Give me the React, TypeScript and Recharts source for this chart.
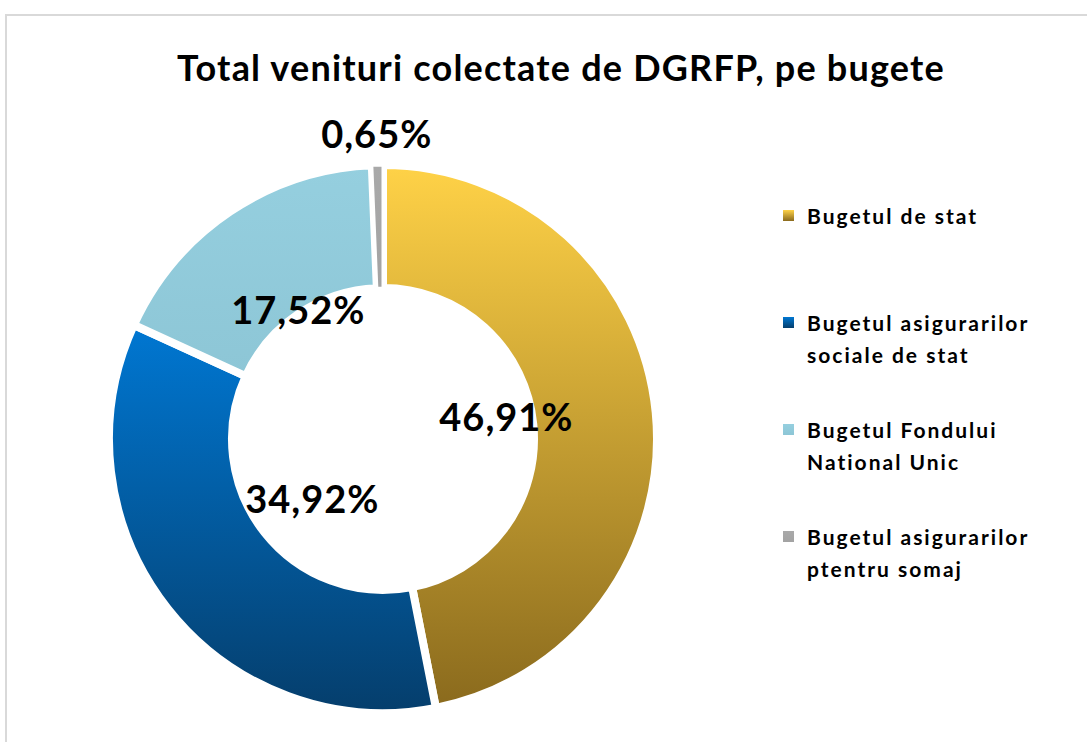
import { Cell, Legend, Pie, PieChart } from "recharts";

const categories = [
  "Bugetul de stat",
  "Bugetul asigurarilor sociale de stat",
  "Bugetul Fondului National Unic",
  "Bugetul asigurarilor ptentru somaj",
];
const shares = [46.91, 34.92, 17.52, 0.65];

// top / bottom of each slice gradient
const gradTop = ["#FFD247", "#0077D2", "#95CFDF", "#A9A9A9"];
const gradBottom = ["#8A6A1D", "#053E6C", "#8DC6D6", "#A3A3A3"];
// label placement along each slice's mid angle, plus a small vertical nudge
const labelRadius = [124, 90, 152, 306];
const labelDy = [-11, 3, -4, 0];

const data = categories.map((name, i) => ({ name, value: shares[i] }));

const FONT = "Lato, 'Open Sans', sans-serif";

const renderLabel = (props: any) => {
  const { cx, cy, midAngle, index, value } = props;
  const r = labelRadius[index];
  const rad = (-midAngle * Math.PI) / 180;
  const x = cx + r * Math.cos(rad);
  const y = cy + r * Math.sin(rad) + labelDy[index];
  return (
    <text
      x={x}
      y={y}
      textAnchor="middle"
      dominantBaseline="central"
      fill="#000"
      style={{ fontFamily: FONT, fontWeight: 700, fontSize: 38, letterSpacing: 1 }}
    >
      {value.toFixed(2).replace(".", ",") + "%"}
    </text>
  );
};

const renderLegend = () => (
  <div
    style={{
      fontFamily: FONT,
      fontWeight: 700,
      fontSize: 21,
      letterSpacing: 2,
      lineHeight: "32px",
      color: "#000",
    }}
  >
    {categories.map((name, i) => (
      <div key={name} style={{ display: "flex", alignItems: "flex-start", height: 107 }}>
        <span
          style={{
            width: 11,
            height: 11,
            marginTop: 10,
            marginRight: 13,
            flex: "none",
            background: `linear-gradient(${gradTop[i]}, ${gradBottom[i]})`,
          }}
        />
        <span style={{ width: 250 }}>{name}</span>
      </div>
    ))}
  </div>
);

export default function App() {
  return (
    <div
      style={{
        position: "absolute",
        left: 5,
        top: 14,
        width: 1100,
        height: 740,
        border: "2px solid #d9d9d9",
        background: "#fff",
      }}
    >
      <div
        style={{
          position: "absolute",
          top: 29,
          left: 0,
          width: 1108,
          textAlign: "center",
          fontFamily: FONT,
          fontWeight: 700,
          fontSize: 36,
          letterSpacing: 1.2,
          color: "#000",
        }}
      >
        Total venituri colectate de DGRFP, pe bugete
      </div>
      <PieChart width={1100} height={740}>
        <defs>
          {gradTop.map((c, i) => (
            <linearGradient key={i} id={`g${i}`} x1="0" y1="0" x2="0" y2="1">
              <stop offset="0%" stopColor={c} />
              <stop offset="100%" stopColor={gradBottom[i]} />
            </linearGradient>
          ))}
        </defs>
        <Pie
          data={data}
          dataKey="value"
          nameKey="name"
          cx={371}
          cy={418}
          innerRadius={151}
          outerRadius={274}
          startAngle={90}
          endAngle={-270}
          label={renderLabel}
          labelLine={false}
          isAnimationActive={false}
        >
          {data.map((d, i) => (
            <Cell key={d.name} fill={`url(#g${i})`} stroke="#fff" strokeWidth={i === 3 ? 3 : 8} />
          ))}
        </Pie>
        <Legend
          layout="vertical"
          content={renderLegend}
          wrapperStyle={{ left: 776, top: 184, width: 300 }}
        />
      </PieChart>
    </div>
  );
}
